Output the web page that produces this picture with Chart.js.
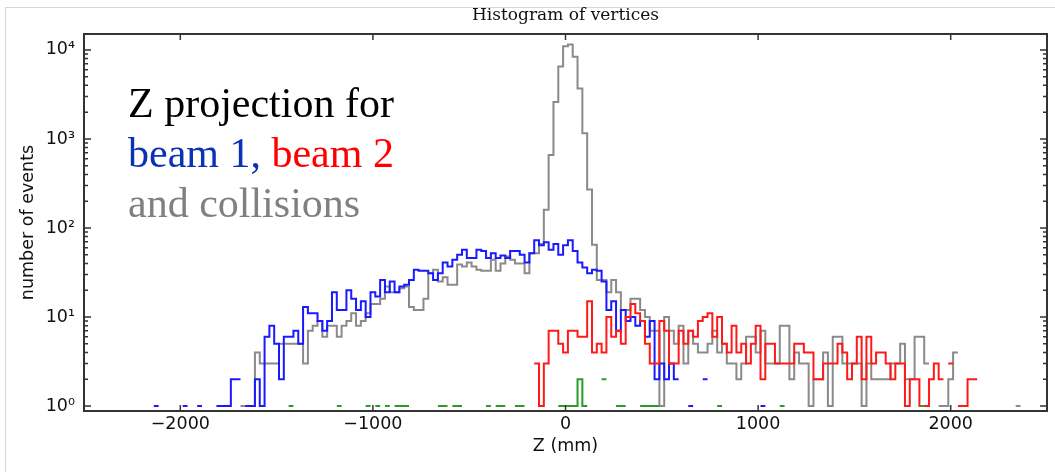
<!DOCTYPE html>
<html>
<head>
<meta charset="utf-8">
<title>Histogram of vertices</title>
<script src="https://cdn.jsdelivr.net/npm/chart.js@4.4.1/dist/chart.umd.min.js"></script>
<style>
html, body { margin: 0; padding: 0; background: #fff; }
#wrap { position: relative; width: 1055px; height: 472px; overflow: hidden; }
#frame { position: absolute; left: 5px; top: 7px; right: 0; bottom: 0;
         border-left: 1px solid #d6d6d6; border-top: 1px solid #d6d6d6; }
#hist { position: absolute; left: 0; top: 0; }
#note { position: absolute; left: 128px; top: 78px; z-index: 2;
        font-family: 'Liberation Serif', serif; font-size: 42px; line-height: 50px; white-space: nowrap; }
</style>
</head>
<body>
<div id="wrap">
  <div id="frame"></div>
  <canvas id="hist" width="1055" height="472"></canvas>
  <div id="note">
    <div style="color:#000">Z projection for</div>
    <div><span style="color:#0a32b4">beam 1,</span> <span style="color:#ff0000">beam 2</span></div>
    <div style="color:#808080">and collisions</div>
  </div>
</div>
<script>
// bins: 25 mm wide, first bin centred on -2250 mm
const binStart = -2250;
const binWidth = 25;
const N = null;

// tick positions
const xTicks = [-2000, -1000, 0, 1000, 2000];
const yTicks = [1, 10, 100, 1000, 10000];

// beam 1
const beam1 = [
  N, N, N, N, N, 1, N, N, N, N,
  N, 1, N, N, 1, N, N, N, 1, 1,
  1, 2, 2, N, 1, 1, 2, 1, 6, 8,
  5, 2, 6, 6, 7, 5, 13, 11, 11, 9,
  7, 9, 19, 12, 12, 20, 16, 12, 15, 10,
  19, 17, 26, 19, 25, 19, 22, 23, 26, 34,
  33, 33, 31, 26, 31, 41, 37, 44, 50, 57,
  46, 46, 57, 55, 46, 52, 46, 49, 46, 55,
  55, 50, 41, 52, 73, 64, 69, 57, 66, 50,
  64, 73, 55, 41, 36, 31, 34, 33, 25, 12,
  15, 7, 12, 9, 10, 8, 9, 6, 9, 2,
  3, 2, 3, 2, N, N, 1, N, N, 2,
  N, N, N, N, N, N, N, N, N, N,
  N, 1, N, N, N, N, N, N, N, N,
  N, N, N, N, N, N, N, N, N, N,
  N, N, N, N, N, N, N, N, N, N,
  N, N, N, N, N, N, N, N, N, N,
  N, N, N, N, N, N, N, N, N, N,
  N, N, N, N, N, N
];

// beam 2
const beam2 = [
  N, N, N, N, N, N, N, N, N, N,
  N, N, N, N, N, N, N, N, N, N,
  N, N, N, N, N, N, N, N, N, N,
  N, N, N, N, N, N, N, N, N, N,
  N, N, N, N, N, N, N, N, N, N,
  N, N, N, N, N, N, N, N, N, N,
  N, N, N, N, N, N, N, N, N, N,
  N, N, N, N, N, N, N, N, N, N,
  N, N, N, N, 3, 1, 3, 7, 7, 5,
  4, 7, 7, 6, 6, 15, 4, 5, 4, 10,
  6, 7, 5, 10, 14, 11, 9, 5, 3, 3,
  9, 7, 3, 3, 7, 5, 7, 6, 9, 10,
  11, 6, 10, 5, 4, 8, 4, 5, 3, 5,
  8, 2, 5, 5, 3, 3, 3, 3, 5, 5,
  4, 4, 2, 2, 3, 3, 3, 5, 4, 2,
  3, 6, 2, 6, 3, 4, 4, 3, 2, 3,
  3, 1, 2, 2, 1, 1, 2, 3, 2, N,
  3, N, 1, 1, 2, 2, N, N, N, N,
  N, N, N, N, N, N
];

// collisions
const collisions = [
  N, N, N, N, N, N, N, N, N, N,
  N, N, N, N, N, N, N, N, N, N,
  N, N, N, 1, 1, 1, 4, 3, 3, 3,
  3, 5, 5, 5, 5, 5, 3, 7, 8, 9,
  6, 8, 8, 6, 8, 9, 11, 8, 9, 11,
  14, 14, 16, 22, 19, 19, 21, 22, 13, 12,
  12, 16, 31, 34, 25, 28, 23, 23, 39, 37,
  41, 37, 34, 33, 33, 44, 33, 40, 48, 44,
  40, 40, 31, 52, 52, 66, 160, 660, 2600, 6500,
  11000, 11500, 8400, 3700, 1160, 270, 65, 26, 26, 19,
  26, 19, 12, 12, 16, 16, 12, 10, 7, 7,
  1, 10, 7, 5, 8, 3, 7, 5, 4, 4,
  5, 7, 4, 5, 3, 3, 2, 3, 6, 6,
  4, 7, 3, 3, 3, 8, 8, 2, 4, 3,
  3, 1, 2, 2, 4, 1, 6, 6, 3, 3,
  3, 3, 1, 3, 2, 2, 2, 2, 3, 3,
  5, 2, 2, 6, 6, 3, N, N, 1, 1,
  2, 4, N, N, N, N, N, N, N, N,
  N, N, N, N, 1, N
];

// green series
const other = [
  N, N, N, N, N, N, N, N, N, N,
  N, N, N, N, N, N, N, N, N, N,
  N, N, N, N, N, N, N, N, N, N,
  N, N, N, 1, N, N, N, N, N, N,
  N, N, N, 1, N, N, N, N, N, 1,
  N, 1, N, 1, N, 1, 1, 1, N, N,
  N, N, N, N, 1, 1, N, 1, 1, N,
  N, N, N, N, 1, N, 1, 1, N, N,
  1, 1, N, N, N, N, N, N, N, 1,
  1, 1, 1, 2, 1, N, N, N, 2, N,
  N, 1, 1, N, N, N, 1, 1, 1, 1,
  N, N, N, N, N, N, N, N, N, N,
  N, N, 1, N, N, N, N, N, N, N,
  N, N, N, N, N, 1, N, N, N, N,
  N, N, N, N, N, N, N, N, N, N,
  N, N, N, N, N, N, N, N, N, N,
  N, N, N, N, 1, N, N, N, N, N,
  N, N, N, N, N, N, N, N, N, N,
  N, N, N, N, N, N
];

// turn counts into step outline points, empty bins break the line
function histPoints(counts) {
  const pts = [];
  counts.forEach(function(c, i) {
    const centre = binStart + i * binWidth;
    if (c === null) {
      pts.push({x: centre, y: null});
      return;
    }
    pts.push({x: centre - binWidth / 2, y: c});
    pts.push({x: centre + binWidth / 2, y: c});
  });
  return pts;
}

const sup = {'0': '\u2070', '1': '\u00b9', '2': '\u00b2', '3': '\u00b3', '4': '\u2074'};
const axisFont = { family: 'DejaVu Sans', size: 17.5, weight: 'normal' };

// inward ticks on all four sides plus the box
const boxTicks = {
  id: 'boxTicks',
  afterDatasetsDraw(chart) {
    const ctx = chart.ctx;
    const a = chart.chartArea;
    const x = chart.scales.x;
    const y = chart.scales.y;
    ctx.save();
    ctx.strokeStyle = '#333';
    ctx.lineWidth = 1.5;
    ctx.beginPath();
    xTicks.forEach(function(v) {
      const px = x.getPixelForValue(v);
      ctx.moveTo(px, a.bottom); ctx.lineTo(px, a.bottom - 6);
      ctx.moveTo(px, a.top); ctx.lineTo(px, a.top + 6);
    });
    yTicks.forEach(function(dec) {
      for (let m = 1; m <= 9; m++) {
        const v = m * dec;
        if (v > y.max) break;
        const py = y.getPixelForValue(v);
        const len = m === 1 ? 7 : 4;
        ctx.moveTo(a.left, py); ctx.lineTo(a.left + len, py);
        ctx.moveTo(a.right, py); ctx.lineTo(a.right - len, py);
      }
    });
    ctx.stroke();
    ctx.lineWidth = 2;
    ctx.strokeRect(a.left, a.top, a.right - a.left, a.bottom - a.top);
    ctx.restore();
  }
};

function stepSet(label, counts, colour, order) {
  return {
    label: label,
    data: histPoints(counts),
    borderColor: colour,
    borderWidth: 2,
    pointRadius: 0,
    tension: 0,
    fill: false,
    spanGaps: false,
    order: order
  };
}

const chart = new Chart(document.getElementById('hist'), {
  type: 'line',
  data: {
    datasets: [
      stepSet('collisions', collisions, 'rgb(138,138,138)', 4),
      stepSet('beam 1', beam1, '#1a1aff', 3),
      stepSet('beam 2', beam2, '#ff1a1a', 2),
      stepSet('other', other, '#2a9a2a', 1)
    ]
  },
  options: {
    responsive: false,
    animation: false,
    layout: { padding: { left: 0, right: 8, top: 0, bottom: 0 } },
    plugins: {
      legend: { display: false },
      tooltip: { enabled: false },
      title: {
        display: true,
        fullSize: false,
        text: 'Histogram of vertices',
        color: '#111',
        font: { family: 'DejaVu Serif', size: 17, weight: 'normal' },
        padding: { top: 5, bottom: 8.6 }
      }
    },
    scales: {
      x: {
        type: 'linear',
        min: -2500,
        max: 2500,
        grid: { display: false, drawTicks: false },
        border: { display: false },
        afterBuildTicks: function(s) { s.ticks = xTicks.map(function(v) { return {value: v}; }); },
        afterFit: function(s) { s.height = 61; },
        ticks: {
          autoSkip: false,
          maxRotation: 0,
          padding: 3,
          color: '#111',
          font: axisFont,
          callback: function(v) { return v < 0 ? '\u2212' + Math.abs(v) : String(v); }
        },
        title: {
          display: true,
          text: 'Z (mm)',
          color: '#111',
          font: axisFont,
          padding: { top: 0, bottom: 15.5 }
        }
      },
      y: {
        type: 'logarithmic',
        min: 0.88,
        max: 15100,
        grid: { display: false, drawTicks: false },
        border: { display: false },
        afterBuildTicks: function(s) { s.ticks = yTicks.map(function(v) { return {value: v}; }); },
        afterFit: function(s) { s.width = 84; },
        ticks: {
          autoSkip: false,
          padding: 9,
          color: '#111',
          font: axisFont,
          callback: function(v) { return '10' + sup[String(Math.round(Math.log10(v)))]; }
        },
        title: {
          display: true,
          text: 'number of events',
          color: '#111',
          font: axisFont,
          padding: { top: 18, bottom: 0 }
        }
      }
    }
  },
  plugins: [boxTicks]
});
</script>
</body>
</html>
